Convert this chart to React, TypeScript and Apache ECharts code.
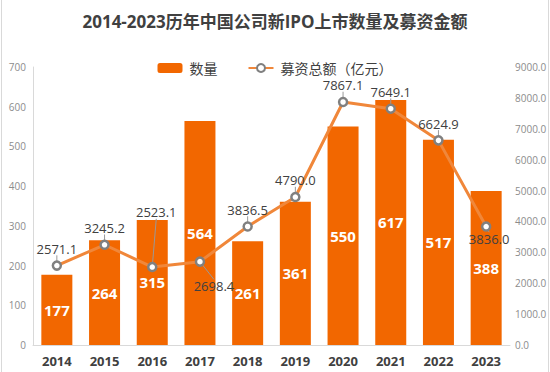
import React, { useEffect, useRef } from "react";
import * as echarts from "echarts";

const years = ["2014", "2015", "2016", "2017", "2018", "2019", "2020", "2021", "2022", "2023"];
const ipoCount = [177, 264, 315, 564, 261, 361, 550, 617, 517, 388];
const raisedAmount = [2571.1, 3245.2, 2523.1, 2698.4, 3836.5, 4790.0, 7867.1, 7649.1, 6624.9, 3836.0];
const titleText = "2014-2023历年中国公司新IPO上市数量及募资金额";
const barName = "数量";
const lineName = "募资总额（亿元）";

const FONT = "'Open Sans','Noto Sans CJK SC',sans-serif";

export default function App() {
  const ref = useRef<HTMLDivElement>(null);
  useEffect(() => {
    const chart = echarts.init(ref.current!, null, { renderer: "svg" });
    const labelMoves: Record<number, { dx: number; dy: number }> = {
      2: { dx: 4, dy: -38 },
      3: { dx: 14, dy: 41 },
      9: { dx: 3, dy: 29 },
    };
    chart.setOption({
      animation: false,
      title: {
        text: titleText,
        left: "center",
        top: 8,
        textStyle: { fontSize: 17, fontWeight: "bold", color: "#404040", fontFamily: FONT },
      },
      legend: {
        top: 56,
        left: "center",
        itemGap: 30,
        itemWidth: 25,
        itemHeight: 10,
        textStyle: { fontSize: 14, color: "#404040", fontFamily: FONT, padding: [0, 0, 0, 2] },
        data: [{ name: barName }, { name: lineName }],
      },
      graphic: [
        { type: "line", shape: { x1: 1.5, y1: 0, x2: 1.5, y2: 372 }, style: { stroke: "#d9d9d9", lineWidth: 1 } },
        { type: "line", shape: { x1: 548.5, y1: 0, x2: 548.5, y2: 372 }, style: { stroke: "#d9d9d9", lineWidth: 1 } },
      ],
      grid: { left: 33, right: 40, top: 67, bottom: 27 },
      xAxis: {
        type: "category",
        data: years,
        axisLine: { lineStyle: { color: "#d9d9d9" } },
        axisTick: { show: false },
        axisLabel: { fontSize: 13, fontWeight: "bold", color: "#404040", margin: 9, fontFamily: FONT },
      },
      yAxis: [
        {
          type: "value",
          min: 0,
          max: 700,
          interval: 100,
          axisLine: { show: true, lineStyle: { color: "#d9d9d9" } },
          axisTick: { show: false },
          splitLine: { show: false },
          axisLabel: { fontSize: 10, color: "#8c8c8c", margin: 7, fontFamily: FONT },
        },
        {
          type: "value",
          min: 0,
          max: 9000,
          interval: 1000,
          axisLine: { show: false },
          axisTick: { show: false },
          splitLine: { show: false },
          axisLabel: {
            fontSize: 10,
            color: "#8c8c8c",
            margin: 5,
            fontFamily: FONT,
            formatter: (v: number) => v.toFixed(1),
          },
        },
      ],
      series: [
        {
          name: barName,
          type: "bar",
          data: ipoCount,
          barWidth: "65%",
          itemStyle: { color: "#F26700" },
          label: {
            show: true,
            position: "inside",
            color: "#ffffff",
            fontSize: 15,
            fontWeight: "bold",
            fontFamily: FONT,
          },
        },
        {
          name: lineName,
          type: "line",
          yAxisIndex: 1,
          data: raisedAmount,
          symbol: "circle",
          symbolSize: 8,
          lineStyle: { color: "#F0873A", width: 3 },
          itemStyle: { color: "#ffffff", borderColor: "#808080", borderWidth: 2.5 },
          label: {
            show: true,
            position: "top",
            distance: 5,
            color: "#404040",
            fontSize: 13,
            fontFamily: FONT,
            formatter: (p: any) => Number(p.value).toFixed(1),
          },
          labelLine: { show: true, lineStyle: { color: "#999999", width: 1 } },
          labelLayout: (params: any) => labelMoves[params.dataIndex] || {},
          z: 5,
        },
      ],
    });
    return () => chart.dispose();
  }, []);
  return (
    <div
      ref={ref}
      style={{ position: "fixed", left: 0, top: 0, width: 550, height: 372, background: "#fff" }}
    />
  );
}
